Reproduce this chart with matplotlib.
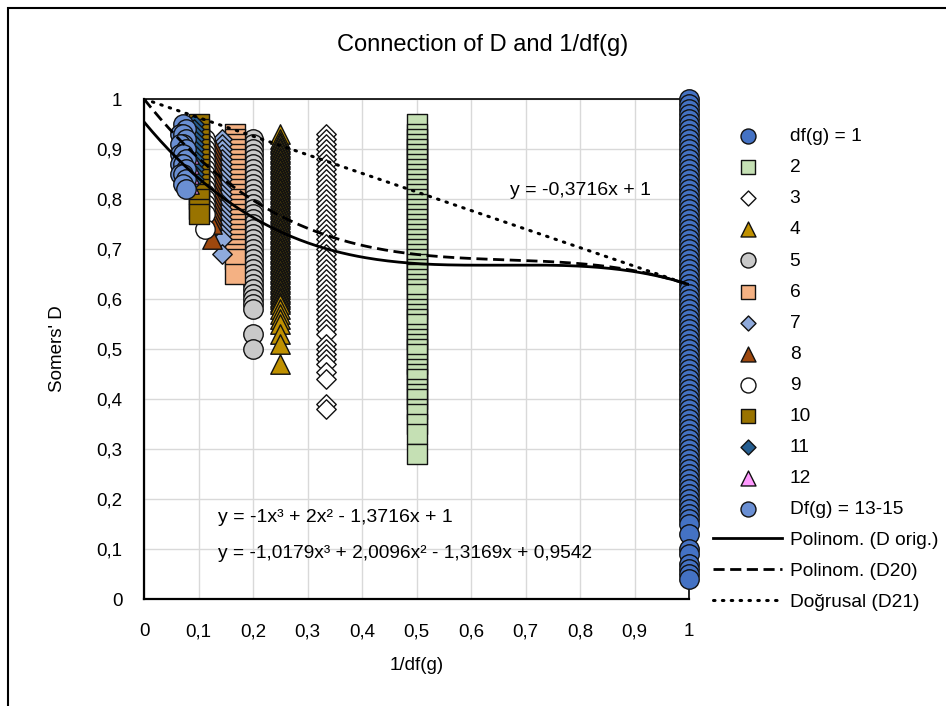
import numpy as np
import matplotlib
matplotlib.use("Agg")
import matplotlib.pyplot as plt
from matplotlib.patches import Rectangle
from matplotlib.ticker import FuncFormatter, MultipleLocator

# --- data ---------------------------------------------------------------------
# Somers' D values per number of degrees of freedom df(g); x = 1/df(g)
D_DF1 = [0.04, 0.05, 0.06, 0.07, 0.09, 0.10, 0.13, 0.15, 0.16, 0.17, 0.18, 0.19,
         0.20, 0.21, 0.22, 0.23, 0.24, 0.25, 0.26, 0.27, 0.28, 0.29, 0.30, 0.31,
         0.32, 0.33, 0.34, 0.35, 0.36, 0.37, 0.38, 0.39, 0.40, 0.41, 0.42, 0.43,
         0.44, 0.45, 0.46, 0.47, 0.48, 0.49, 0.50, 0.51, 0.52, 0.53, 0.54, 0.55,
         0.56, 0.57, 0.58, 0.59, 0.60, 0.61, 0.62, 0.63, 0.64, 0.65, 0.66, 0.67,
         0.68, 0.69, 0.70, 0.71, 0.72, 0.73, 0.74, 0.75, 0.76, 0.77, 0.78, 0.79,
         0.80, 0.81, 0.82, 0.83, 0.84, 0.85, 0.86, 0.87, 0.88, 0.89, 0.90, 0.91,
         0.92, 0.93, 0.94, 0.95, 0.96, 0.97, 0.98, 0.99, 1.00]
D_DF2 = [0.29, 0.33, 0.35, 0.37, 0.38, 0.40, 0.41, 0.42, 0.44, 0.45, 0.46, 0.47,
         0.49, 0.50, 0.51, 0.52, 0.53, 0.55, 0.56, 0.57, 0.58, 0.59, 0.61, 0.62,
         0.63, 0.64, 0.65, 0.66, 0.67, 0.68, 0.69, 0.70, 0.71, 0.72, 0.73, 0.74,
         0.75, 0.76, 0.77, 0.78, 0.79, 0.80, 0.81, 0.82, 0.83, 0.84, 0.85, 0.86,
         0.87, 0.88, 0.89, 0.90, 0.91, 0.92, 0.93, 0.95]
D_DF3 = [0.38, 0.39, 0.44, 0.455, 0.47, 0.48, 0.49, 0.50, 0.51, 0.53, 0.54, 0.55,
         0.56, 0.57, 0.58, 0.59, 0.60, 0.61, 0.62, 0.63, 0.64, 0.65, 0.66, 0.67,
         0.68, 0.69, 0.70, 0.71, 0.72, 0.73, 0.74, 0.75, 0.76, 0.77, 0.78, 0.79,
         0.80, 0.81, 0.82, 0.83, 0.84, 0.85, 0.86, 0.87, 0.88, 0.89, 0.90, 0.91,
         0.92, 0.93]
D_DF4 = [0.47, 0.51, 0.53, 0.55, 0.56, 0.57, 0.58, 0.59, 0.595, 0.60, 0.605,
         0.61, 0.615, 0.62, 0.625, 0.63, 0.635, 0.64, 0.645, 0.65, 0.655, 0.66,
         0.665, 0.67, 0.675, 0.68, 0.685, 0.69, 0.695, 0.70, 0.705, 0.71, 0.715,
         0.72, 0.725, 0.73, 0.735, 0.74, 0.745, 0.75, 0.755, 0.76, 0.765, 0.77,
         0.775, 0.78, 0.785, 0.79, 0.795, 0.80, 0.805, 0.81, 0.815, 0.82, 0.825,
         0.83, 0.835, 0.84, 0.845, 0.85, 0.855, 0.86, 0.865, 0.87, 0.875, 0.88,
         0.885, 0.89, 0.895, 0.90, 0.905, 0.91, 0.915, 0.92, 0.93]
D_DF5 = [0.50, 0.53, 0.58, 0.59, 0.60, 0.61, 0.62, 0.63, 0.64, 0.65, 0.66, 0.67,
         0.68, 0.69, 0.70, 0.71, 0.72, 0.73, 0.74, 0.75, 0.76, 0.77, 0.78, 0.79,
         0.80, 0.81, 0.82, 0.83, 0.84, 0.85, 0.86, 0.87, 0.88, 0.89, 0.90, 0.91,
         0.92]
D_DF6 = [0.65, 0.68, 0.69, 0.70, 0.71, 0.72, 0.73, 0.74, 0.75, 0.76, 0.77, 0.78,
         0.79, 0.80, 0.81, 0.82, 0.83, 0.84, 0.85, 0.86, 0.87, 0.88, 0.89, 0.90,
         0.91, 0.92, 0.93]
D_DF7 = [0.69, 0.72, 0.73, 0.74, 0.75, 0.76, 0.77, 0.78, 0.79, 0.80, 0.81, 0.82,
         0.83, 0.84, 0.85, 0.86, 0.87, 0.88, 0.89, 0.90, 0.91, 0.92]
D_DF8 = [0.72, 0.75, 0.76, 0.77, 0.78, 0.79, 0.80, 0.81, 0.82, 0.83, 0.84, 0.85,
         0.86, 0.87, 0.88, 0.89, 0.90, 0.91]
D_DF9 = [0.74, 0.77, 0.78, 0.79, 0.80, 0.81, 0.82, 0.83, 0.84, 0.85, 0.86, 0.87,
         0.88, 0.89, 0.90, 0.91, 0.92]
D_DF10 = [0.77, 0.78, 0.80, 0.81, 0.82, 0.83, 0.84, 0.85, 0.86, 0.87, 0.88, 0.89,
          0.90, 0.91, 0.92, 0.93, 0.94, 0.95]
D_DF11 = [0.84, 0.85, 0.86, 0.87, 0.88, 0.89, 0.90, 0.91, 0.92, 0.93, 0.94, 0.95]
D_DF12 = [0.83, 0.85, 0.87, 0.89]
D_DF13 = [0.82, 0.84, 0.86, 0.88, 0.90, 0.92, 0.94]
D_DF14 = [0.83, 0.85, 0.87, 0.89, 0.91, 0.93, 0.95]
D_DF15 = [0.85, 0.87, 0.89, 0.91, 0.93]

SERIES_DF = [1, 2, 3, 4, 5, 6, 7, 8, 9, 10, 11, 12]
SERIES_D = [D_DF1, D_DF2, D_DF3, D_DF4, D_DF5, D_DF6, D_DF7, D_DF8, D_DF9,
            D_DF10, D_DF11, D_DF12]
GROUP_DF = [13, 14, 15]
GROUP_D = [D_DF13, D_DF14, D_DF15]
LEGEND_LABELS = ["df(g) = 1", "2", "3", "4", "5", "6", "7", "8", "9", "10",
                 "11", "12", "Df(g) = 13-15"]

# trendline coefficients (highest power first) as printed on the chart
POLY_D_ORIG = [-1.0179, 2.0096, -1.3169, 0.9542]
POLY_D20 = [-1.0, 2.0, -1.3716, 1.0]
LIN_D21 = [-0.3716, 1.0]
EQ_D_ORIG = "y = -1,0179x³ + 2,0096x² - 1,3169x + 0,9542"
EQ_D20 = "y = -1x³ + 2x² - 1,3716x + 1"
EQ_D21 = "y = -0,3716x + 1"

# --- styling ------------------------------------------------------------------
MARKERS = ["o", "s", "D", "^", "o", "s", "D", "^", "o", "s", "D", "^", "o"]
COLORS = ["#4472C4", "#C5E0B4", "#FFFFFF", "#BF9000", "#C9C9C9", "#F4B183",
          "#8FAADC", "#9E480E", "#FFFFFF", "#997300", "#255E91", "#FF99FF",
          "#6A8FD3"]
SIZE = 14.0  # marker size in points (diamonds are scaled down)


def comma_fmt(v, _pos):
    s = f"{v:.1f}".rstrip("0").rstrip(".")
    return s.replace(".", ",")


def draw():
    plt.rcParams["font.family"] = ["Liberation Sans", "DejaVu Sans"]
    fig = plt.figure(figsize=(9.46, 7.06), dpi=100)
    ax = fig.add_axes([144 / 946, 1 - 599 / 706, 545 / 946, 500 / 706])

    handles = []
    all_x = [[1.0 / d] * len(v) for d, v in zip(SERIES_DF, SERIES_D)]
    all_y = list(SERIES_D)
    all_x.append([1.0 / d for d, v in zip(GROUP_DF, GROUP_D) for _ in v])
    all_y.append([y for v in GROUP_D for y in v])

    for i, (xs, ys) in enumerate(zip(all_x, all_y)):
        # points are drawn from the highest value down, so lower ones sit on top
        order = np.argsort(ys)[::-1]
        xs = np.asarray(xs)[order]
        ys = np.asarray(ys)[order]
        size = SIZE / 1.414 if MARKERS[i] == "D" else SIZE
        h = ax.scatter(xs, ys, s=size ** 2, marker=MARKERS[i], c=COLORS[i],
                       edgecolors="#111111", linewidths=1.0, zorder=3 + i * 0.01,
                       clip_on=False, label=LEGEND_LABELS[i])
        handles.append(h)

    xx = np.linspace(0, 1, 200)
    l1, = ax.plot(xx, np.polyval(POLY_D_ORIG, xx), color="black", lw=2.0,
                  zorder=5, label="Polinom. (D orig.)")
    l2, = ax.plot(xx, np.polyval(POLY_D20, xx), color="black", lw=2.0,
                  ls=(0, (4, 2)), zorder=5, label="Polinom. (D20)")
    l3, = ax.plot(xx, np.polyval(LIN_D21, xx), color="black", lw=2.2,
                  ls=(0, (0.5, 2.4)), dash_capstyle="round", zorder=5,
                  label="Doğrusal (D21)")
    handles += [l1, l2, l3]

    ax.set_xlim(0, 1)
    ax.set_ylim(0, 1)
    ax.xaxis.set_major_locator(MultipleLocator(0.1))
    ax.yaxis.set_major_locator(MultipleLocator(0.1))
    ax.xaxis.set_major_formatter(FuncFormatter(comma_fmt))
    ax.yaxis.set_major_formatter(FuncFormatter(comma_fmt))
    ax.tick_params(length=0, labelsize=13.5)
    ax.tick_params(axis="x", pad=17.5)
    ax.tick_params(axis="y", pad=15.5)
    ax.grid(True, color="#D9D9D9", lw=1.0, zorder=0)
    ax.set_axisbelow(True)
    for side in ["left", "bottom"]:
        ax.spines[side].set_linewidth(1.6)
    for side in ["top", "right"]:
        ax.spines[side].set_linewidth(1.2)

    fig.text(483 / 946, 1 - 45 / 706, "Connection of D and 1/df(g)",
             fontsize=17, ha="center", va="center")
    ax.set_xlabel("1/df(g)", fontsize=13.5, labelpad=12)
    ax.set_ylabel("Somers' D", fontsize=13.5, labelpad=22)

    ax.text(0.672, 0.818, EQ_D21, fontsize=14, va="center", zorder=6)
    ax.text(0.136, 0.164, EQ_D20, fontsize=14, va="center", zorder=6)
    ax.text(0.136, 0.092, EQ_D_ORIG, fontsize=13.8, va="center", zorder=6)

    fig.legend(handles=handles, loc="upper left",
               bbox_to_anchor=(713 / 946, 1 - 128 / 706), frameon=False,
               fontsize=13.8, borderpad=0, borderaxespad=0, handlelength=3.6,
               handletextpad=0.4, labelspacing=0.71, markerscale=0.77,
               scatterpoints=1)

    fig.patches.append(Rectangle((8 / 946, -0.1), 1.2, 1.1 - 8 / 706,
                                 transform=fig.transFigure, fill=False,
                                 ec="black", lw=1.5))
    fig.savefig("out.png", dpi=100)
    plt.close(fig)


if __name__ == "__main__":
    draw()
